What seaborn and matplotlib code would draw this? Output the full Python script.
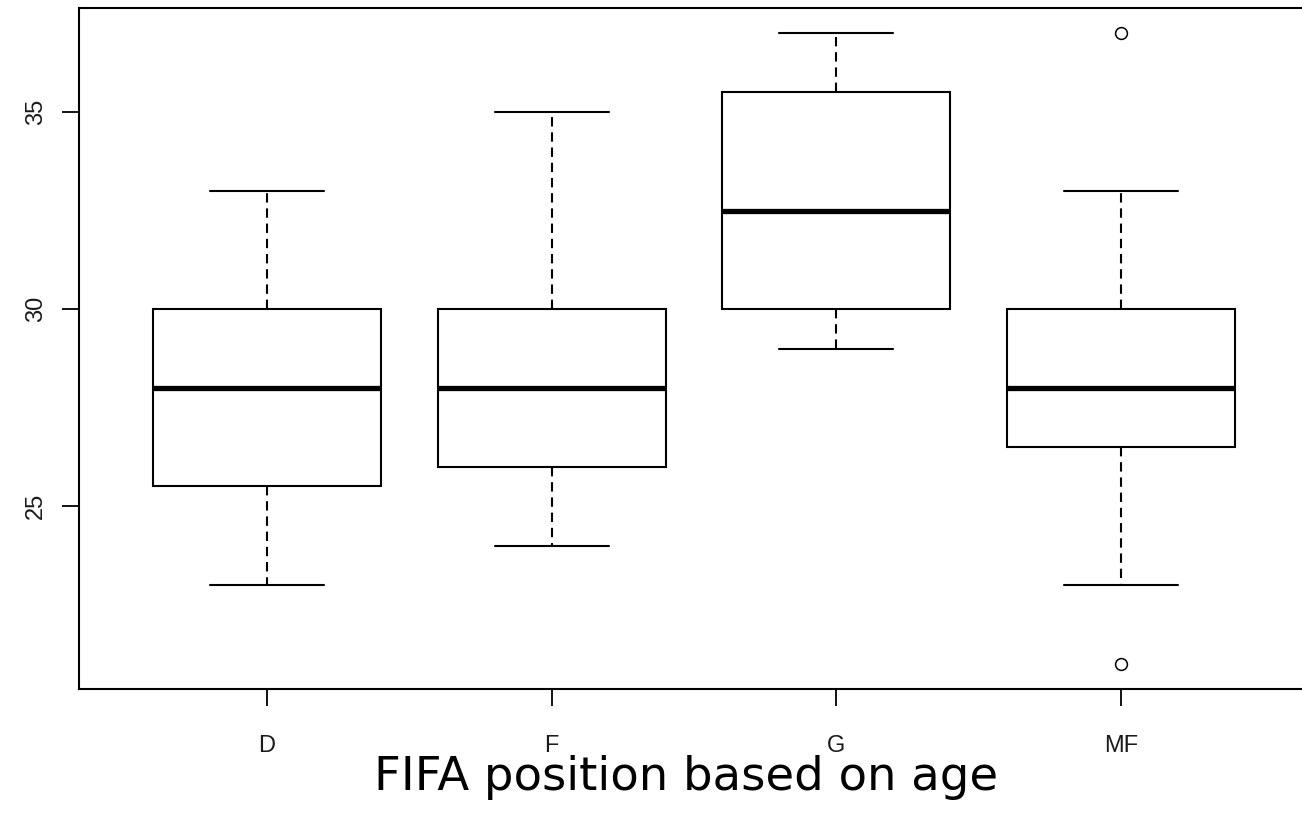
import matplotlib
matplotlib.use("Agg")
import matplotlib.pyplot as plt
import seaborn as sns
import pandas as pd

# Values (age per FIFA position)
positions = ["D", "F", "G", "MF"]
ages_D = [23, 25.5, 28, 30, 33]
ages_F = [24, 26, 28, 30, 35]
ages_G = [29, 30, 32.5, 35.5, 37]
ages_MF = [21, 23, 26.5, 26.5, 28, 30, 30, 33, 37]
y_ticks = [25, 30, 35]
title_text = "FIFA position based on age"

groups = [ages_D, ages_F, ages_G, ages_MF]
df = pd.DataFrame({
    "position": [p for p, g in zip(positions, groups) for _ in g],
    "age": [v for g in groups for v in g],
})

sns.set_theme(style="white")
plt.rcParams["font.family"] = ["Liberation Sans", "DejaVu Sans"]

W, H = 1302, 822
fig = plt.figure(figsize=(W / 100, H / 100), dpi=100)
ax = fig.add_axes([79 / W, 1 - 689 / H, (1309 - 79) / W, (689 - 8) / H])

lw = 1.5
sns.boxplot(
    data=df, x="position", y="age", order=positions, ax=ax,
    width=0.8, color="white", linecolor="black", linewidth=lw,
    whis=1.5, capwidths=0.4,
    boxprops=dict(facecolor="white", edgecolor="black", linewidth=lw),
    medianprops=dict(color="black", linewidth=3.8, solid_capstyle="butt"),
    whiskerprops=dict(color="black", linewidth=lw, linestyle=(0, (4.5, 2.8))),
    capprops=dict(color="black", linewidth=lw),
    flierprops=dict(marker="o", markersize=8.5, markerfacecolor="none",
                    markeredgecolor="black", markeredgewidth=1.1),
)

ax.set_xlim(-0.66, 3.66)
ax.set_ylim(20.36, 37.64)
ax.set_yticks(y_ticks)
ax.set_yticklabels([str(t) for t in y_ticks], rotation=90, va="center")
ax.set_xlabel("")
ax.set_ylabel("")

for s in ax.spines.values():
    s.set_color("black")
    s.set_linewidth(1.5)

ax.tick_params(axis="both", which="both", direction="out", length=12, width=1.3,
               color="black", labelsize=17, labelcolor="#1a1a1a",
               left=True, bottom=True)
ax.tick_params(axis="x", pad=21)
ax.tick_params(axis="y", pad=11)

fig.text(686 / W, 1 - 790 / H, title_text, ha="center", va="baseline",
         fontsize=33.5, family=["DejaVu Sans"], color="black")

fig.savefig("out.png", dpi=100)
